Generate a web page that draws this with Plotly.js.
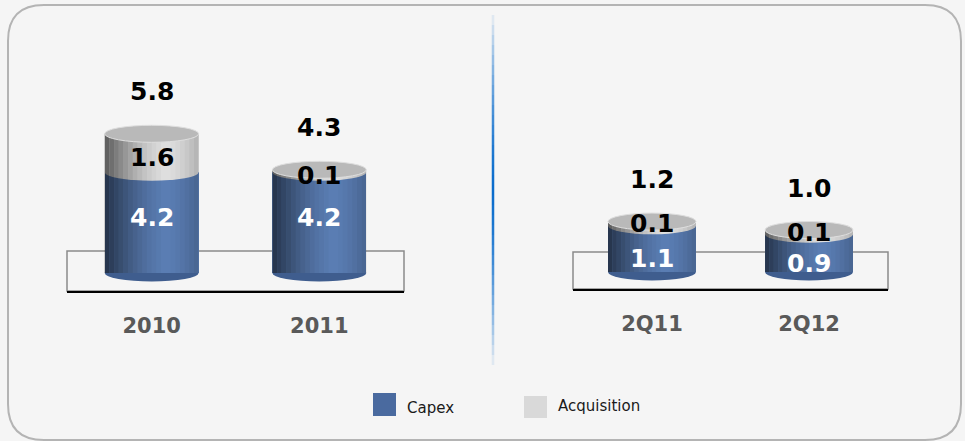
<!DOCTYPE html>
<html>
<head>
<meta charset="utf-8">
<script src="https://cdn.plot.ly/plotly-3.0.1.min.js"></script>
<style>
html,body{margin:0;padding:0;background:#f5f5f5;}
#chart{width:965px;height:441px;}
</style>
</head>
<body>
<div id="chart"></div>
<script>
// ---- data ----
const leftCategories = ['2010', '2011'];
const leftCapex = [4.2, 4.2];
const leftAcquisition = [1.6, 0.1];
const leftTotal = [5.8, 4.3];

const rightCategories = ['2Q11', '2Q12'];
const rightCapex = [1.1, 0.9];
const rightAcquisition = [0.1, 0.1];
const rightTotal = [1.2, 1.0];

const seriesNames = ['Capex', 'Acquisition'];

// ---- style ----
const W = 965, H = 441;
const px = x => x / W;
const py = y => 1 - y / H;
const FONT = 'DejaVu Sans, Verdana, sans-serif';
const CAPEX_COLOR = '#5a7db3';
const ACQ_COLOR = '#dedede';
const CAP_BOTTOM = '#3f5d8e';
const TOP_COLOR = '#b9b9b9';
const BAR_W = 0.56;
const ELL_R = 8.5;

const panels = [
  {cats: leftCategories, capex: leftCapex, acq: leftAcquisition, total: leftTotal,
   xa: 'x', ya: 'y', capShift: 5, acqShift: -4,
   platTop: 251, platBot: 291},
  {cats: rightCategories, capex: rightCapex, acq: rightAcquisition, total: rightTotal,
   xa: 'x2', ya: 'y2', capShift: -10, acqShift: 0,
   platTop: 252, platBot: 289}
];

const traces = [];
const shapes = [];
const annotations = [];

// rounded border
(function(){
  const x0 = px(8), x1 = px(961), y0 = py(440), y1 = py(5);
  const rx = 36 / W, ry = 36 / H;
  const p = `M ${x0+rx},${y1} L ${x1-rx},${y1} Q ${x1},${y1} ${x1},${y1-ry} L ${x1},${y0+ry} Q ${x1},${y0} ${x1-rx},${y0} L ${x0+rx},${y0} Q ${x0},${y0} ${x0},${y0+ry} L ${x0},${y1-ry} Q ${x0},${y1} ${x0+rx},${y1} Z`;
  shapes.push({type: 'path', xref: 'paper', yref: 'paper', path: p,
    line: {color: '#b4b4b4', width: 2}, fillcolor: 'rgba(0,0,0,0)', layer: 'below'});
})();

// divider with fading blue
(function(){
  const top = 15, bot = 365, n = 35;
  const mid = 190;
  for (let k = 0; k < n; k++) {
    const a = top + (bot - top) * k / n, b = top + (bot - top) * (k + 1) / n;
    const c = (a + b) / 2;
    const d = Math.abs(c - mid) / (c < mid ? (mid - top) : (bot - mid));
    const op = Math.max(0, 1 - Math.pow(d, 1.6)) * 0.95 + 0.05;
    shapes.push({type: 'line', xref: 'paper', yref: 'paper',
      x0: px(493), x1: px(493), y0: py(a), y1: py(b),
      line: {color: `rgba(10,108,204,${op.toFixed(3)})`, width: 2.5}, layer: 'below'});
  }
})();

// cylinder shading profile across the bar width (left -> right), 20 strips
const NS = 20;
function shadeAt(f) {
  // dark at the left edge, lightest around 65%, slightly darker at right edge
  if (f < 0.65) return 0.6 * Math.pow(1 - f / 0.65, 1.5);
  return 0.2 * Math.pow((f - 0.65) / 0.35, 1.6);
}

panels.forEach(p => {
  const xr = p.xa, yr = p.ya;
  traces.push({type: 'bar', x: p.cats, y: p.capex, name: seriesNames[0],
    xaxis: xr, yaxis: yr, width: BAR_W, marker: {color: CAPEX_COLOR, line: {width: 0}},
    showlegend: false, legendgroup: 'capex', hoverinfo: 'x+y'});
  traces.push({type: 'bar', x: p.cats, y: p.acq, name: seriesNames[1],
    xaxis: xr, yaxis: yr, width: BAR_W, marker: {color: ACQ_COLOR, line: {width: 0}},
    showlegend: false, legendgroup: 'acq', hoverinfo: 'x+y'});

  // platform
  shapes.push({type: 'rect', xref: xr + ' domain', yref: 'paper', x0: 0, x1: 1,
    y0: py(p.platBot), y1: py(p.platTop), line: {color: '#8a8a8a', width: 1.5},
    fillcolor: 'rgba(0,0,0,0)', layer: 'below'});

  p.cats.forEach((c, i) => {
    const top = p.capex[i] + p.acq[i];
    const xl = i - BAR_W / 2, xrr = i + BAR_W / 2;
    // bottom ellipse
    shapes.push({type: 'circle', xref: xr, yref: yr, ysizemode: 'pixel', yanchor: 0,
      x0: xl, x1: xrr, y0: -ELL_R, y1: ELL_R, fillcolor: CAP_BOTTOM,
      line: {width: 0}, layer: 'below'});
    // boundary ellipse (acq over capex)
    shapes.push({type: 'circle', xref: xr, yref: yr, ysizemode: 'pixel', yanchor: p.capex[i],
      x0: xl, x1: xrr, y0: -ELL_R, y1: ELL_R, fillcolor: ACQ_COLOR,
      line: {width: 0}, layer: 'above'});
    // shading strips
    for (let k = 0; k < NS; k++) {
      const op = shadeAt((k + 0.5) / NS);
      if (op <= 0.005) continue;
      shapes.push({type: 'rect', xref: xr, yref: yr,
        x0: xl + BAR_W * k / NS, x1: xl + BAR_W * (k + 1) / NS,
        y0: 0, y1: top, fillcolor: `rgba(0,0,0,${op.toFixed(3)})`, line: {width: 0}, layer: 'above'});
    }
    // top ellipse
    shapes.push({type: 'circle', xref: xr, yref: yr, ysizemode: 'pixel', yanchor: top,
      x0: xl, x1: xrr, y0: -ELL_R, y1: ELL_R, fillcolor: TOP_COLOR,
      line: {width: 1, color: '#dedede'}, layer: 'above'});

    // labels
    annotations.push({xref: xr, yref: yr, x: i, y: p.capex[i] / 2, yshift: p.capShift,
      yanchor: 'middle', text: '<b>' + p.capex[i].toFixed(1) + '</b>', showarrow: false,
      font: {family: FONT, size: 25, color: '#ffffff'}});
    annotations.push({xref: xr, yref: yr, x: i, y: p.capex[i] + p.acq[i] / 2, yshift: p.acqShift,
      yanchor: 'middle', text: '<b>' + p.acq[i].toFixed(1) + '</b>', showarrow: false,
      font: {family: FONT, size: 25, color: '#000000'}});
    annotations.push({xref: xr, yref: yr, x: i, y: top, yshift: 42,
      yanchor: 'middle', text: '<b>' + p.total[i].toFixed(1) + '</b>', showarrow: false,
      font: {family: FONT, size: 25, color: '#000000'}});
  });
});

// legend (custom swatches)
shapes.push({type: 'rect', xref: 'paper', yref: 'paper', x0: px(373), x1: px(396),
  y0: py(416), y1: py(393), fillcolor: '#4a6a9f', line: {width: 0}});
shapes.push({type: 'rect', xref: 'paper', yref: 'paper', x0: px(524), x1: px(547),
  y0: py(418), y1: py(396), fillcolor: '#d9d9d9', line: {width: 0}});
annotations.push({xref: 'paper', yref: 'paper', x: px(405), y: py(408), xanchor: 'left',
  yanchor: 'middle', text: seriesNames[0], showarrow: false,
  font: {family: FONT, size: 15, color: '#1a1a1a'}});
annotations.push({xref: 'paper', yref: 'paper', x: px(556), y: py(406), xanchor: 'left',
  yanchor: 'middle', text: seriesNames[1], showarrow: false,
  font: {family: FONT, size: 15, color: '#1a1a1a'}});

const xBase = {
  type: 'category', showgrid: false, zeroline: false, showline: true,
  linecolor: '#000000', linewidth: 2, ticks: '', ticklabelstandoff: 15,
  tickfont: {family: FONT, size: 21, color: '#595959', weight: 'bold'},
  fixedrange: true
};
const yBase = {showgrid: false, zeroline: false, showline: false, showticklabels: false,
  ticks: '', fixedrange: true};

const layout = {
  width: W, height: H,
  margin: {l: 0, r: 0, t: 0, b: 0},
  paper_bgcolor: '#f5f5f5',
  plot_bgcolor: 'rgba(0,0,0,0)',
  barmode: 'stack',
  showlegend: false,
  xaxis: Object.assign({}, xBase, {domain: [px(67), px(404)], range: [-0.505, 1.505], anchor: 'y'}),
  yaxis: Object.assign({}, yBase, {domain: [py(291), 1], range: [-18 / 24, 273 / 24], anchor: 'x'}),
  xaxis2: Object.assign({}, xBase, {domain: [px(573), px(888)], range: [-0.503, 1.503], anchor: 'y2'}),
  yaxis2: Object.assign({}, yBase, {domain: [py(289), 1], range: [-17 / 42, 272 / 42], anchor: 'x2'}),
  shapes: shapes,
  annotations: annotations
};

Plotly.newPlot('chart', traces, layout, {displayModeBar: false, staticPlot: true});
</script>
</body>
</html>
